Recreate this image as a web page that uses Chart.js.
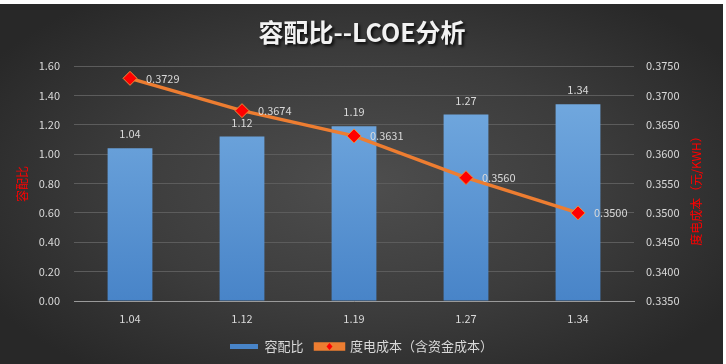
<!DOCTYPE html>
<html>
<head>
<meta charset="utf-8">
<script src="https://cdn.jsdelivr.net/npm/chart.js@4.4.0/dist/chart.umd.min.js"></script>
<style>
  html, body { margin: 0; padding: 0; background: #fff; }
  body { width: 726px; height: 364px; position: relative; overflow: hidden; }
  #wrap {
    position: absolute; left: 0; top: 4px; width: 723px; height: 360px;
    background: radial-gradient(ellipse 60% 65% at 50% 50%, #4e4e4e 0%, #3c3c3c 55%, #282828 100%);
  }
</style>
</head>
<body>
<div id="wrap"><canvas id="chart" width="723" height="360"></canvas></div>
<script>
// 数据
const categories = ['1.04', '1.12', '1.19', '1.27', '1.34'];
const ratioValues = [1.04, 1.12, 1.19, 1.27, 1.34];
const lcoeValues = [0.3729, 0.3674, 0.3631, 0.3560, 0.3500];
const leftTicks = { min: 0, max: 1.6, step: 0.2 };
const rightTicks = { min: 0.335, max: 0.375, step: 0.005 };

const TITLE = '容配比--LCOE分析';
const LEFT_TITLE = '容配比';
const RIGHT_TITLE = '度电成本（元/KWH）';
const FONT = '"Noto Sans CJK SC", "Noto Sans", sans-serif';
const TEXT_COLOR = '#d9d9d9';

// 柱子渐变
function barGradient(ctx) {
    const area = ctx.chart.chartArea;
    if (!area) return '#5b9bd5';
    const g = ctx.chart.ctx.createLinearGradient(0, area.top, 0, area.bottom);
    g.addColorStop(0, '#78aee2');
    g.addColorStop(1, '#4884c8');
    return g;
}

// 标题、轴标题、数据标签
const decorPlugin = {
    id: 'decor',
    afterDatasetsDraw(chart) {
        const ctx = chart.ctx;
        ctx.save();
        ctx.font = '11px ' + FONT;
        ctx.fillStyle = TEXT_COLOR;
        ctx.textBaseline = 'middle';
        // 柱子标签
        ctx.textAlign = 'center';
        chart.getDatasetMeta(0).data.forEach((bar, i) => {
            ctx.fillText(ratioValues[i].toFixed(2), bar.x, bar.y - 14);
        });
        // 折线标签
        ctx.textAlign = 'left';
        chart.getDatasetMeta(1).data.forEach((pt, i) => {
            ctx.fillText(lcoeValues[i].toFixed(4), pt.x + 16, pt.y);
        });
        ctx.restore();
    },
    afterDraw(chart) {
        const ctx = chart.ctx;
        ctx.save();
        // 标题（带阴影）
        ctx.font = 'bold 25px ' + FONT;
        ctx.textAlign = 'center';
        ctx.textBaseline = 'middle';
        ctx.shadowColor = 'rgba(0,0,0,0.8)';
        ctx.shadowOffsetX = 2;
        ctx.shadowOffsetY = 2;
        ctx.shadowBlur = 3;
        ctx.fillStyle = '#f2f2f2';
        ctx.fillText(TITLE, 362, 28);
        ctx.shadowColor = 'transparent';

        // 轴标题
        ctx.font = '12px ' + FONT;
        ctx.fillStyle = '#ff0000';
        ctx.save();
        ctx.translate(22, 180);
        ctx.rotate(-Math.PI / 2);
        ctx.fillText(LEFT_TITLE, 0, 0);
        ctx.restore();
        ctx.save();
        ctx.translate(696, 184);
        ctx.rotate(-Math.PI / 2);
        ctx.fillText(RIGHT_TITLE, 0, 0);
        ctx.restore();

        // 图例折线上的菱形标记
        const legend = chart.legend;
        if (legend && legend.legendHitBoxes[1]) {
            const box = legend.legendHitBoxes[1];
            const cx = box.left + 14, cy = box.top + box.height / 2;
            ctx.fillStyle = '#ff0000';
            ctx.beginPath();
            ctx.moveTo(cx, cy - 3.5);
            ctx.lineTo(cx + 3, cy);
            ctx.lineTo(cx, cy + 3.5);
            ctx.lineTo(cx - 3, cy);
            ctx.closePath();
            ctx.fill();
        }
        ctx.restore();
    }
};

new Chart(document.getElementById('chart'), {
    type: 'bar',
    data: {
        labels: categories,
        datasets: [{
            type: 'bar',
            label: '容配比',
            data: ratioValues,
            yAxisID: 'y',
            backgroundColor: barGradient,
            borderWidth: 0,
            categoryPercentage: 1,
            barPercentage: 0.4,
            order: 1
        }, {
            type: 'line',
            label: '度电成本（含资金成本）',
            data: lcoeValues,
            yAxisID: 'y1',
            borderColor: '#ed7d31',
            backgroundColor: '#ed7d31',
            borderWidth: 3.5,
            pointStyle: 'rectRot',
            pointRadius: 7,
            pointBackgroundColor: '#ff0000',
            pointBorderColor: '#f08a3a',
            pointBorderWidth: 1,
            tension: 0,
            order: 0
        }]
    },
    options: {
        responsive: false,
        animation: false,
        layout: { padding: { top: 62, left: 0, right: 0, bottom: 1 } },
        plugins: {
            title: { display: false },
            tooltip: { enabled: false },
            legend: {
                position: 'bottom',
                labels: {
                    color: TEXT_COLOR,
                    font: { family: FONT, size: 13 },
                    boxWidth: 28,
                    boxHeight: 5,
                    padding: 12,
                    sort: (a, b) => a.datasetIndex - b.datasetIndex
                }
            }
        },
        scales: {
            x: {
                grid: { display: false, drawTicks: false },
                border: { display: true, color: '#9a9a9a', width: 1 },
                ticks: { color: TEXT_COLOR, font: { family: FONT, size: 11 }, padding: 11 },
                afterFit(scale) { scale.height = 27; }
            },
            y: {
                position: 'left',
                min: leftTicks.min,
                max: leftTicks.max,
                grid: { color: '#5c5c5c', lineWidth: 1, drawTicks: false },
                border: { display: false },
                ticks: {
                    stepSize: leftTicks.step,
                    color: TEXT_COLOR,
                    font: { family: FONT, size: 11 },
                    padding: 14,
                    callback: v => v.toFixed(2)
                },
                afterFit(scale) { scale.width = 74; }
            },
            y1: {
                position: 'right',
                min: rightTicks.min,
                max: rightTicks.max,
                grid: { display: false, drawTicks: false },
                border: { display: false },
                ticks: {
                    stepSize: rightTicks.step,
                    color: TEXT_COLOR,
                    font: { family: FONT, size: 11 },
                    padding: 12,
                    callback: v => v.toFixed(4)
                },
                afterFit(scale) { scale.width = 89; }
            }
        }
    },
    plugins: [decorPlugin]
});
</script>
</body>
</html>
